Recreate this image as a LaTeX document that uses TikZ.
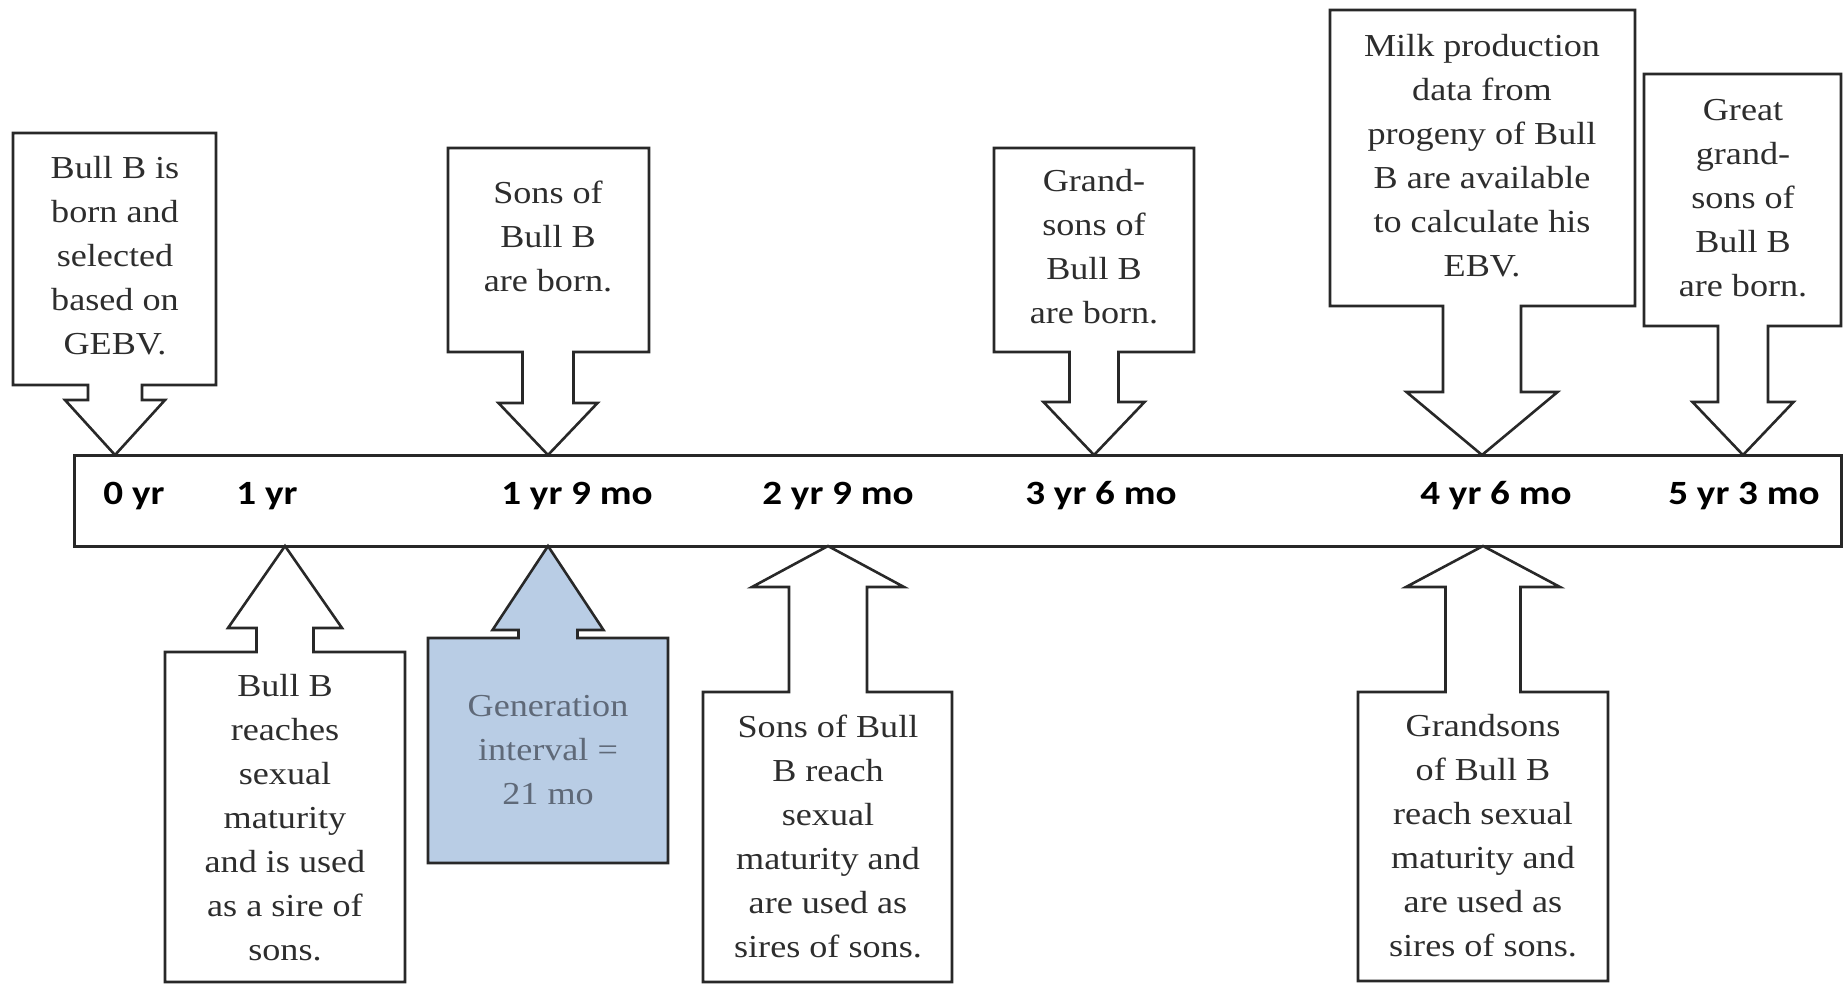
\documentclass[tikz,border=0pt]{standalone}
\usepackage{fontspec}
\setmainfont{Liberation Serif}[FakeStretch=1.13]
\newfontfamily\labfont{Carlito}[FakeStretch=1.15]
\definecolor{lineC}{RGB}{40,40,40}
\definecolor{txtC}{RGB}{45,45,45}
\definecolor{genFill}{RGB}{185,205,229}
\definecolor{genTxt}{RGB}{95,105,120}
\newcommand\dncall[9]{%
  \draw[callout] (#1,#2) -- (#3,#2) -- (#3,#4) -- ({#5+#6},#4) -- ({#5+#6},#8) -- ({#5+#7},#8) -- (#5,#9) -- ({#5-#7},#8) -- ({#5-#6},#8) -- ({#5-#6},#4) -- (#1,#4) -- cycle;}
\newcommand\upcall[9]{%
  \draw[callout,#9] (#1,#2) -- ({#5-#6},#2) -- ({#5-#6},#8) -- ({#5-#7},#8) -- (#5,546) -- ({#5+#7},#8) -- ({#5+#6},#8) -- ({#5+#6},#2) -- (#3,#2) -- (#3,#4) -- (#1,#4) -- cycle;}
\begin{document}
\begin{tikzpicture}[x=1pt,y=-1pt,
  callout/.style={draw=lineC,line width=2.6pt,fill=white,line join=miter},
  txt/.style={align=center,text=txtC,font=\fontsize{32}{44}\selectfont,inner sep=0pt},
  lab/.style={text=black,font=\labfont\bfseries\fontsize{34}{40}\selectfont,inner sep=0pt}]
\useasboundingbox (0,0) rectangle (1843,983);
\fill[white] (0,0) rectangle (1843,983);
% timeline bar
\draw[draw=lineC,line width=3pt,fill=white] (74,455) rectangle (1841,546);
\node[lab] (t0) at (134,496) {0 yr};
\node[lab] (t1) at (267,496) {1 yr};
\node[lab] (t2) at (577,496) {1 yr 9 mo};
\node[lab] (t3) at (838,496) {2 yr 9 mo};
\node[lab] (t4) at (1101,496) {3 yr 6 mo};
\node[lab] (t5) at (1496,496) {4 yr 6 mo};
\node[lab] (t6) at (1744,496) {5 yr 3 mo};
% top callouts
\dncall{13}{133}{216}{385}{115}{27}{50}{400}{455}
\node[txt] (bornB) at (115,256) {Bull B is\\born and\\selected\\based on\\GEBV.};
\dncall{448}{148}{649}{352}{548}{25.5}{49.5}{403}{455}
\node[txt] (bornS) at (548,236) {Sons of\\Bull B\\are born.};
\dncall{994}{148}{1194}{352}{1094}{24.5}{50.5}{402}{455}
\node[txt] (bornG) at (1094,247) {Grand-\\sons of\\Bull B\\are born.};
\dncall{1330}{10}{1635}{306}{1482}{39}{75.5}{392}{455}
\node[txt] (milk) at (1482,156) {Milk production\\data from\\progeny of Bull\\B are available\\to calculate his\\EBV.};
\dncall{1644}{74}{1841}{326}{1743}{25}{50.5}{402}{455}
\node[txt] (bornGG) at (1743,198) {Great\\grand-\\sons of\\Bull B\\are born.};
% bottom callouts
\upcall{165}{652}{405}{982}{285}{28.5}{57}{628}{}
\node[txt] (matB) at (285,818) {Bull B\\reaches\\sexual\\maturity\\and is used\\as a sire of\\sons.};
\upcall{428}{638}{668}{863}{548}{29.5}{55.5}{630}{fill=genFill}
\node[txt,text=genTxt] (gen) at (548,750) {Generation\\interval =\\21 mo};
\upcall{703}{692}{952}{982}{828}{39}{76}{587}{}
\node[txt] (matS) at (828,836) {Sons of Bull\\B reach\\sexual\\maturity and\\are used as\\sires of sons.};
\upcall{1358}{692}{1608}{981}{1483}{37.5}{77}{587}{}
\node[txt] (matG) at (1483,836) {Grandsons\\of Bull B\\reach sexual\\maturity and\\are used as\\sires of sons.};
\end{tikzpicture}
\end{document}
